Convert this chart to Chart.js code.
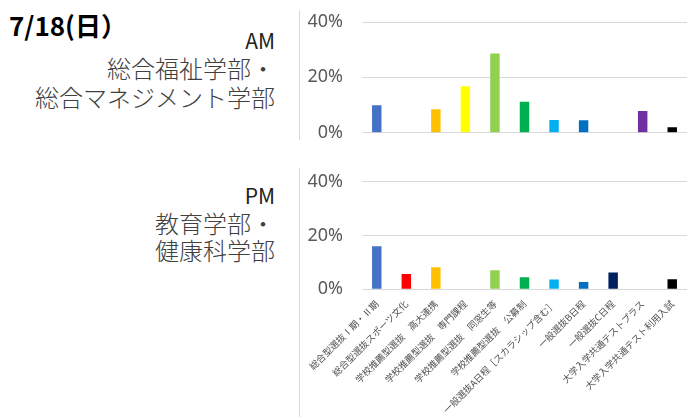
<!DOCTYPE html>
<html><head><meta charset="utf-8">
<script src="https://cdn.jsdelivr.net/npm/chart.js@4"></script>
<style>
body{margin:0;width:694px;height:417px;background:#fff;position:relative;overflow:hidden;font-family:"Noto Sans CJK JP",sans-serif;}
.t{position:absolute;white-space:nowrap;}
.r{left:0;width:275px;text-align:right;}
.vl{position:absolute;left:299px;width:1px;background:#d9d9d9;}
canvas{position:absolute;}
</style></head><body>
<div class="t" style="left:9px;top:9px;font-size:26px;line-height:32px;font-weight:bold;color:#000">7/18(日）</div>
<div class="t r" style="top:26px;font-size:21px;line-height:28px;color:#222">AM</div>
<div class="t r" style="top:53px;font-size:24px;line-height:29px;color:#404040;font-weight:300">総合福祉学部・<br>総合マネジメント学部</div>
<div class="t r" style="top:181px;font-size:21px;line-height:28px;color:#222">PM</div>
<div class="t r" style="top:209px;font-size:24px;line-height:27px;color:#404040;font-weight:300">教育学部・<br>健康科学部</div>
<div class="vl" style="top:10px;height:130px"></div>
<div class="vl" style="top:168px;height:249px"></div>
<canvas id="am" width="394" height="145" style="left:300px;top:0px"></canvas>
<canvas id="pm" width="394" height="257" style="left:300px;top:160px"></canvas>
<script>
const categories = [
  "総合型選抜Ⅰ期・Ⅱ期",
  "総合型選抜スポーツ文化",
  "学校推薦型選抜　高大連携",
  "学校推薦型選抜　専門課程",
  "学校推薦型選抜　同窓生等",
  "学校推薦型選抜　公募制",
  "一般選抜A日程［スカラシップ含む］",
  "一般選抜B日程",
  "一般選抜C日程",
  "大学入学共通テストプラス",
  "大学入学共通テスト利用入試"
];
const amValues = [9.9, 0, 8.5, 16.8, 28.6, 11.2, 4.6, 4.5, 0, 7.8, 2.0];
const pmValues = [16.0, 5.7, 8.2, 0, 7.1, 4.5, 3.6, 2.7, 6.2, 0, 3.7];
const barColors = ["#4472C4","#FF0000","#FFC000","#FFFF00","#92D050","#00B050","#00B0F0","#0070C0","#002060","#7030A0","#000000"];
const yTickValues = [0, 20, 40];
const yMax = 40;

function makeChart(id, values, showX, pad, xHeight) {
  return new Chart(document.getElementById(id), {
    type: 'bar',
    data: { labels: categories, datasets: [{ data: values, backgroundColor: barColors, barPercentage: 0.32, categoryPercentage: 1 }] },
    options: {
      responsive: false, animation: false, devicePixelRatio: 1,
      layout: { padding: pad },
      plugins: { legend: { display: false }, tooltip: { enabled: false } },
      scales: {
        x: {
          display: showX,
          grid: { display: false, drawTicks: false },
          border: { display: false },
          ticks: { autoSkip: false, maxRotation: 45, minRotation: 45, padding: 9, color: '#505050', font: { size: 9.3, family: '"Noto Sans CJK JP"' } },
          afterFit(s) { if (xHeight) s.height = xHeight; s.paddingLeft = 0; s.paddingRight = 0; }
        },
        y: {
          min: 0, max: yMax,
          afterBuildTicks(s) { s.ticks = yTickValues.map(v => ({ value: v })); },
          ticks: { padding: 19, color: '#595959', font: { size: 18, family: '"Noto Sans"' }, callback: v => v + '%' },
          grid: { color: '#d9d9d9', drawTicks: false },
          border: { display: false },
          afterFit(s) { s.width = 62; s.paddingTop = 0; s.paddingBottom = 0; }
        }
      }
    }
  });
}
makeChart('am', amValues, false, { top: 22, right: 7, bottom: 12.3, left: 0 }, 0);
makeChart('pm', pmValues, true, { top: 21.7, right: 7, bottom: 0, left: 0 }, 127.7);
</script>
</body></html>
